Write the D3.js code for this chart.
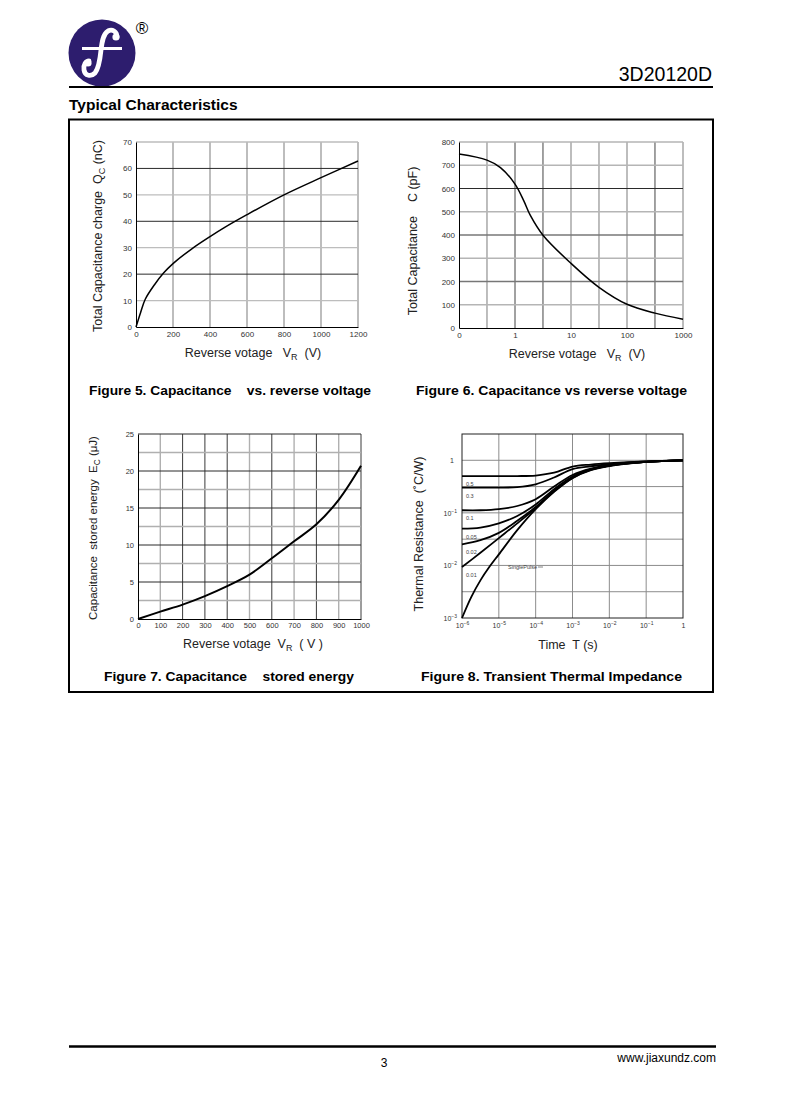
<!DOCTYPE html>
<html><head><meta charset="utf-8">
<script src="https://cdn.jsdelivr.net/npm/d3@7"></script>
<style>
body{margin:0;background:#fff}
svg{display:block}
text{font-family:"Liberation Sans",Arial,sans-serif}
</style>
</head><body>
<svg id="c" width="785" height="1119"></svg>
<script>
// ---------- DATA ----------
// Figure 5: total capacitance charge vs reverse voltage
const fig5Voltage = [0, 25, 50, 100, 150, 200, 300, 400, 475, 600, 800, 1000, 1200];
const fig5Charge  = [0, 5.5, 10.5, 16, 20.5, 24, 29.5, 34.2, 37.5, 42.5, 50, 56.5, 62.8];
const fig5XTicks  = [0, 200, 400, 600, 800, 1000, 1200];
const fig5YTicks  = [0, 10, 20, 30, 40, 50, 60, 70];

// Figure 6: total capacitance vs reverse voltage (log x)
const fig6Voltage     = [0.1, 0.316, 0.55, 1, 1.43, 1.88, 3.16, 10, 31.6, 100, 316, 1000];
const fig6Capacitance = [748, 722, 690, 619, 548, 484, 399, 278, 175, 102, 64, 38];
const fig6XTicks      = [0.1, 1, 10, 100, 1000];
const fig6XTickLabels = ["0", "1", "10", "100", "1000"];
const fig6YTicks      = [0, 100, 200, 300, 400, 500, 600, 700, 800];

// Figure 7: capacitance stored energy vs reverse voltage
const fig7Voltage = [0, 100, 200, 300, 400, 500, 600, 700, 800, 900, 1000];
const fig7Energy  = [0, 0.99, 1.95, 3.1, 4.45, 6.0, 8.2, 10.5, 12.8, 16.1, 20.7];
const fig7XTicks  = [0, 100, 200, 300, 400, 500, 600, 700, 800, 900, 1000];
const fig7YTicks  = [0, 5, 10, 15, 20, 25];

// Figure 8: transient thermal impedance (log-log)
const fig8Time       = [1e-6, 3.16e-6, 1e-5, 3.16e-5, 1e-4, 3.16e-4, 1e-3, 3.16e-3, 1e-2, 1e-1, 1];
const fig8Duty05     = [0.501, 0.501, 0.501, 0.501, 0.513, 0.58, 0.76, 0.83, 0.88, 0.955, 1];
const fig8Duty03     = [0.302, 0.302, 0.302, 0.309, 0.35, 0.47, 0.68, 0.77, 0.84, 0.95, 1];
const fig8Duty01     = [0.112, 0.112, 0.1175, 0.135, 0.182, 0.316, 0.525, 0.692, 0.813, 0.933, 1];
const fig8Duty005    = [0.0501, 0.0525, 0.0631, 0.0871, 0.1445, 0.282, 0.49, 0.676, 0.794, 0.933, 1];
const fig8Duty002    = [0.0251, 0.0302, 0.0417, 0.0708, 0.129, 0.263, 0.468, 0.661, 0.794, 0.933, 1];
const fig8Duty001    = [0.0093, 0.0174, 0.0331, 0.063, 0.123, 0.257, 0.468, 0.661, 0.794, 0.933, 1];
const fig8SingleTime = [1e-6, 1.78e-6, 3.16e-6, 5.62e-6, 1e-5, 3.16e-5, 1e-4, 3.16e-4, 1e-3, 3.16e-3, 1e-2, 1e-1, 1];
const fig8Single     = [0.001, 0.0025, 0.0052, 0.0095, 0.0162, 0.0468, 0.1175, 0.251, 0.457, 0.646, 0.776, 0.933, 1];
const fig8Labels     = ["0.5", "0.3", "0.1", "0.05", "0.02", "0.01"];
const fig8XTicks     = [1e-6, 1e-5, 1e-4, 1e-3, 1e-2, 1e-1, 1];
const fig8XExp       = ["-6", "-5", "-4", "-3", "-2", "-1", null];
const fig8YTicks     = [1e-3, 1e-2, 1e-1, 1];
const fig8YExp       = ["-3", "-2", "-1", null];

// ---------- PAGE ----------
const svg = d3.select("#c");
const smooth = d3.curveCatmullRom.alpha(0.5);

// logo
const logo = svg.append("g");
logo.append("circle").attr("cx", 102).attr("cy", 53).attr("r", 33.5).attr("fill", "#2d1d6e");
logo.append("path")
  .attr("d", "M117,37 C117,31 112,29 108,31 C103,34 102,42 101,50 C100,60 99,68 95,73 C91,77 85,76 84,70 C83,65 86,61 89,61")
  .attr("fill", "none").attr("stroke", "#fff").attr("stroke-width", 4.8).attr("stroke-linecap", "round");
logo.append("circle").attr("cx", 116).attr("cy", 37).attr("r", 3.6).attr("fill", "#fff");
logo.append("circle").attr("cx", 88).attr("cy", 63).attr("r", 3.6).attr("fill", "#fff");
logo.append("line").attr("x1", 82).attr("x2", 122).attr("y1", 48.5).attr("y2", 48.5)
  .attr("stroke", "#fff").attr("stroke-width", 3);
svg.append("text").attr("x", 142).attr("y", 34).attr("text-anchor", "middle")
  .attr("font-size", 17).attr("fill", "#000").text("®");

// header
svg.append("text").attr("x", 712).attr("y", 81).attr("text-anchor", "end")
  .attr("font-size", 19.5).attr("fill", "#000").text("3D20120D");
svg.append("line").attr("x1", 69).attr("x2", 713).attr("y1", 87).attr("y2", 87)
  .attr("stroke", "#000").attr("stroke-width", 2.2);
svg.append("text").attr("x", 69).attr("y", 109.5).attr("font-size", 15.5).attr("font-weight", "bold")
  .attr("fill", "#000").text("Typical Characteristics");

// frame box
svg.append("rect").attr("x", 69).attr("y", 119.5).attr("width", 644).attr("height", 572.5)
  .attr("fill", "none").attr("stroke", "#000").attr("stroke-width", 2);

// footer
svg.append("line").attr("x1", 69).attr("x2", 716).attr("y1", 1046.5).attr("y2", 1046.5)
  .attr("stroke", "#000").attr("stroke-width", 2.5);
svg.append("text").attr("x", 384).attr("y", 1066.5).attr("text-anchor", "middle")
  .attr("font-size", 12).attr("fill", "#000").text("3");
svg.append("text").attr("x", 716).attr("y", 1062).attr("text-anchor", "end")
  .attr("font-size", 12).attr("fill", "#000").text("www.jiaxundz.com");

// captions
function caption(x, y, t, w) {
  svg.append("text").attr("x", x).attr("y", y).attr("font-size", 13.5).attr("font-weight", "bold")
    .attr("fill", "#000").attr("textLength", w).attr("lengthAdjust", "spacingAndGlyphs")
    .style("white-space", "pre").text(t);
}
caption(89, 395, "Figure 5. Capacitance    vs. reverse voltage", 282);
caption(416, 395, "Figure 6. Capacitance vs reverse voltage", 271);
caption(104, 681, "Figure 7. Capacitance    stored energy", 250);
caption(421, 681, "Figure 8. Transient Thermal Impedance", 261);

// helpers
function hline(g, y, x0, x1, color, w) {
  g.append("line").attr("x1", x0).attr("x2", x1).attr("y1", y).attr("y2", y)
    .attr("stroke", color).attr("stroke-width", w);
}
function vline(g, x, y0, y1, color, w) {
  g.append("line").attr("x1", x).attr("x2", x).attr("y1", y0).attr("y2", y1)
    .attr("stroke", color).attr("stroke-width", w);
}
function styleAxis(a, size) {
  a.selectAll("text").attr("font-size", size).attr("fill", "#333")
    .style("font-family", "'Liberation Sans',Arial,sans-serif");
  a.selectAll(".tick line").remove();
}
function addParts(t, parts, size) {
  parts.forEach(p => {
    const s = t.append("tspan").text(p[0]);
    if (p[1] === "sub") s.attr("font-size", size * 0.72).attr("dy", size * 0.25);
    if (p[1] === "back") s.attr("dy", -size * 0.25);
  });
}
function rotLabel(x, y, parts, size) {
  const t = svg.append("text").attr("transform", `translate(${x},${y}) rotate(-90)`)
    .attr("text-anchor", "middle").attr("font-size", size).attr("fill", "#222")
    .style("white-space", "pre");
  addParts(t, parts, size);
}
function hLabel(x, y, parts, size) {
  const t = svg.append("text").attr("x", x).attr("y", y)
    .attr("text-anchor", "middle").attr("font-size", size).attr("fill", "#222")
    .style("white-space", "pre");
  addParts(t, parts, size);
}

// ---------- FIGURE 5 ----------
{
  const x = d3.scaleLinear().domain([0, 1200]).range([136, 358]);
  const y = d3.scaleLinear().domain([0, 70]).range([327, 142]);
  const g = svg.append("g");
  fig5XTicks.slice(1).forEach(v => vline(g, x(v), y(70), y(0), "#9a9a9a", 1.3));
  fig5YTicks.slice(1).forEach(v => {
    const dark = (v % 20 === 0);
    hline(g, y(v), x(0), x(1200), dark ? "#2a2a2a" : "#bdbdbd", dark ? 1 : 1.3);
  });
  const ax = g.append("g").attr("transform", `translate(0,${y(0)})`)
    .call(d3.axisBottom(x).tickValues(fig5XTicks).tickFormat(d3.format("d")).tickSizeOuter(0).tickSize(0).tickPadding(4));
  ax.select(".domain").attr("stroke", "#000");
  styleAxis(ax, 8);
  const ay = g.append("g").attr("transform", `translate(${x(0)},0)`)
    .call(d3.axisLeft(y).tickValues(fig5YTicks).tickFormat(d3.format("d")).tickSizeOuter(0).tickSize(0).tickPadding(4));
  ay.select(".domain").attr("stroke", "#000");
  styleAxis(ay, 8);
  const line = d3.line().x((d, i) => x(fig5Voltage[i])).y(d => y(d)).curve(smooth);
  g.append("path").attr("d", line(fig5Charge)).attr("fill", "none").attr("stroke", "#000").attr("stroke-width", 1.5);
  rotLabel(102, 236, [["Total Capacitance charge  Q"], ["C", "sub"], [" (nC)", "back"]], 12.5);
  hLabel(253, 357, [["Reverse votage   V"], ["R", "sub"], ["  (V)", "back"]], 12.5);
}

// ---------- FIGURE 6 ----------
{
  const x = d3.scaleLog().domain([0.1, 1000]).range([459, 683]);
  const y = d3.scaleLinear().domain([0, 800]).range([328, 142]);
  const g = svg.append("g");
  const vGrid = [0.316, 1, 3.16, 10, 31.6, 100, 316, 1000];
  const vDark = [1, 3.16, 316];
  vGrid.forEach(v => vline(g, x(v), y(800), y(0), vDark.includes(v) ? "#444" : "#9a9a9a", vDark.includes(v) ? 1 : 1.3));
  fig6YTicks.slice(1).forEach(v => {
    const c = v === 600 ? "#2a2a2a" : (v === 400 || v === 200 ? "#777" : "#b5b5b5");
    hline(g, y(v), x(0.1), x(1000), c, v === 600 ? 1 : 1.3);
  });
  const ax = g.append("g").attr("transform", `translate(0,${y(0)})`)
    .call(d3.axisBottom(x).tickValues(fig6XTicks).tickFormat((d, i) => fig6XTickLabels[i]).tickSizeOuter(0).tickSize(0).tickPadding(4));
  ax.select(".domain").attr("stroke", "#000");
  styleAxis(ax, 8);
  const ay = g.append("g").attr("transform", `translate(${x(0.1)},0)`)
    .call(d3.axisLeft(y).tickValues(fig6YTicks).tickFormat(d3.format("d")).tickSizeOuter(0).tickSize(0).tickPadding(4));
  ay.select(".domain").attr("stroke", "#000");
  styleAxis(ay, 8);
  const line = d3.line().x((d, i) => x(fig6Voltage[i])).y(d => y(d)).curve(smooth);
  g.append("path").attr("d", line(fig6Capacitance)).attr("fill", "none").attr("stroke", "#000").attr("stroke-width", 1.5);
  rotLabel(417, 241, [["Total Capacitance    C (pF)"]], 12.5);
  hLabel(577, 358, [["Reverse votage   V"], ["R", "sub"], ["  (V)", "back"]], 12.5);
}

// ---------- FIGURE 7 ----------
{
  const x = d3.scaleLinear().domain([0, 1000]).range([138, 361]);
  const y = d3.scaleLinear().domain([0, 25]).range([619, 434]);
  const g = svg.append("g");
  fig7XTicks.slice(1).forEach(v => {
    const dark = (v % 200 === 0) || v === 300 || v === 1000;
    vline(g, x(v), y(25), y(0), dark ? "#3a3a3a" : "#b0b0b0", dark ? 1 : 1.4);
  });
  const hVals = [2.5, 5, 7.5, 10, 12.5, 15, 17.5, 20, 22.5, 25];
  hVals.forEach(v => {
    const dark = (v % 5 === 0);
    hline(g, y(v), x(0), x(1000), dark ? "#2a2a2a" : "#b0b0b0", dark ? 1 : 1.4);
  });
  const ax = g.append("g").attr("transform", `translate(0,${y(0)})`)
    .call(d3.axisBottom(x).tickValues(fig7XTicks).tickFormat(d3.format("d")).tickSizeOuter(0).tickSize(0).tickPadding(4));
  ax.select(".domain").attr("stroke", "#000");
  styleAxis(ax, 7.5);
  const ay = g.append("g").attr("transform", `translate(${x(0)},0)`)
    .call(d3.axisLeft(y).tickValues(fig7YTicks).tickFormat(d3.format("d")).tickSizeOuter(0).tickSize(0).tickPadding(4));
  ay.select(".domain").attr("stroke", "#000");
  styleAxis(ay, 7.5);
  const line = d3.line().x((d, i) => x(fig7Voltage[i])).y(d => y(d)).curve(smooth);
  g.append("path").attr("d", line(fig7Energy)).attr("fill", "none").attr("stroke", "#000").attr("stroke-width", 2);
  rotLabel(97, 528, [["Capacitance  stored energy  E"], ["C", "sub"], [" (μJ)", "back"]], 11.5);
  hLabel(253, 648, [["Reverse votage  V"], ["R", "sub"], ["  ( V )", "back"]], 12.5);
}

// ---------- FIGURE 8 ----------
{
  const x = d3.scaleLog().domain([1e-6, 1]).range([462, 683]);
  const y = d3.scaleLog().domain([1e-3, 3.1623]).range([618, 434]);
  const g = svg.append("g");
  [1e-5, 1e-4, 1e-3, 1e-2, 1e-1].forEach(v => vline(g, x(v), y(3.1623), y(1e-3), "#8c8c8c", 1));
  [0.00316, 0.01, 0.0316, 0.1, 0.316, 1].forEach(v => hline(g, y(v), x(1e-6), x(1), "#8c8c8c", 1));
  g.append("rect").attr("x", x(1e-6)).attr("y", y(3.1623)).attr("width", x(1) - x(1e-6))
    .attr("height", y(1e-3) - y(3.1623)).attr("fill", "none").attr("stroke", "#222").attr("stroke-width", 1);

  const ax = g.append("g").attr("transform", `translate(0,${y(1e-3)})`)
    .call(d3.axisBottom(x).tickValues(fig8XTicks).tickFormat("").tickSize(0).tickSizeOuter(0));
  ax.select(".domain").remove();
  ax.selectAll(".tick").each(function(d, i) {
    const t = d3.select(this).append("text").attr("y", 10).attr("text-anchor", "middle")
      .attr("font-size", 7).attr("fill", "#333");
    if (fig8XExp[i] === null) { t.text("1"); }
    else {
      t.append("tspan").text("10");
      t.append("tspan").attr("dy", -3).attr("font-size", 5).text(fig8XExp[i].replace("-", "\u2212"));
    }
  });
  const ay = g.append("g").attr("transform", `translate(${x(1e-6)},0)`)
    .call(d3.axisLeft(y).tickValues(fig8YTicks).tickFormat("").tickSize(0).tickSizeOuter(0));
  ay.select(".domain").remove();
  ay.selectAll(".tick").each(function(d, i) {
    const t = d3.select(this).append("text").attr("x", fig8YExp[i] === null ? -8 : -5).attr("dy", "0.32em")
      .attr("text-anchor", "end").attr("font-size", 7).attr("fill", "#333");
    if (fig8YExp[i] === null) { t.text("1"); }
    else {
      t.append("tspan").text("10");
      t.append("tspan").attr("dy", -3).attr("font-size", 5).text(fig8YExp[i].replace("-", "\u2212"));
    }
  });

  const mk = (times) => d3.line().x((d, i) => x(times[i])).y(d => y(d)).curve(smooth);
  const series = [fig8Duty05, fig8Duty03, fig8Duty01, fig8Duty005, fig8Duty002, fig8Duty001];
  series.forEach(s => g.append("path").attr("d", mk(fig8Time)(s)).attr("fill", "none")
    .attr("stroke", "#000").attr("stroke-width", 1.8));
  g.append("path").attr("d", mk(fig8SingleTime)(fig8Single)).attr("fill", "none")
    .attr("stroke", "#000").attr("stroke-width", 1.8);

  // curve labels placed just under each curve start
  series.forEach((s, i) => {
    g.append("text").attr("x", x(1e-6) + 4).attr("y", y(s[0]) + 10)
      .attr("font-size", 5.5).attr("fill", "#444").text(fig8Labels[i]);
  });
  g.append("text").attr("x", 508).attr("y", 569).attr("font-size", 5.5).attr("fill", "#444").text("SinglePulse");
  hline(g, 567, 538, 543, "#666", 0.8);

  rotLabel(423, 534, [["Thermal Resistance  (˚C/W)"]], 12.5);
  hLabel(568, 649, [["Time  T (s)"]], 12.5);
}
</script>
</body></html>
